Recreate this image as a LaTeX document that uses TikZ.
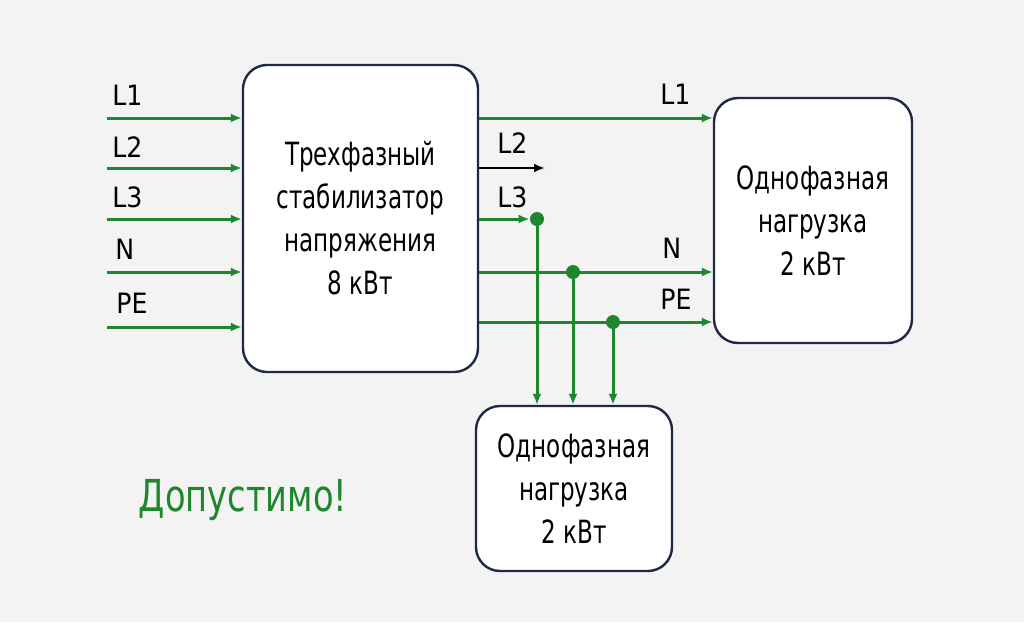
\documentclass[tikz,border=0pt]{standalone}
\usepackage{fontspec}
\setmainfont{DejaVu Sans Condensed}
\newfontfamily\narrowfont[FakeStretch=0.8]{DejaVu Sans Condensed}
\newfontfamily\verdictfont[FakeStretch=0.85]{DejaVu Sans Condensed}
\usetikzlibrary{arrows.meta,positioning,calc}
\definecolor{wirecol}{RGB}{30,135,45}
\definecolor{framecol}{RGB}{30,42,68}
\definecolor{bgcol}{RGB}{243,243,243}

\begin{document}
\begin{tikzpicture}[x=0.5pt,y=-0.5pt,
  block/.style={draw=framecol,line width=1.2pt,fill=white,rounded corners=12pt,align=center,inner sep=0pt,
    font=\narrowfont\fontsize{16}{21.5}\selectfont},
  wire/.style={draw=wirecol,line width=1.5pt},
  feed/.style={wire,-{Latex[length=5.5pt,width=4.5pt]}},
  dot/.style={circle,fill=wirecol,inner sep=0pt,minimum size=7pt},
  lbl/.style={font=\fontsize{14}{14}\selectfont,anchor=base west,inner sep=0pt}]
\fill[bgcol] (0,0) rectangle (1024,622);
\useasboundingbox (0,0) rectangle (1024,622);
% blocks
\node[block,minimum width=117.5pt,minimum height=153.5pt] (stab) at (360.5,218.5)
  {Трехфазный\\стабилизатор\\напряжения\\8 кВт};
\node[block,minimum width=99pt,minimum height=122.5pt] (loadA) at (813,220.5)
  {Однофазная\\нагрузка\\2 кВт};
\node[block,minimum width=98pt,minimum height=82.5pt] (loadB) at (574,488.5)
  {Однофазная\\нагрузка\\2 кВт};
% inputs
\coordinate (in1) at (107,118);
\coordinate (in2) at (107,168);
\coordinate (in3) at (107,219);
\coordinate (in4) at (107,272);
\coordinate (in5) at (107,327);
\foreach \i in {1,...,5}
  \draw[feed] (in\i) -- (in\i -| stab.west);
\node[lbl] (tin1) at (112,105) {L1};
\node[lbl] (tin2) at (112,157) {L2};
\node[lbl] (tin3) at (112,207) {L3};
\node[lbl] (tin4) at (115,259) {N};
\node[lbl] (tin5) at (116,313) {PE};
% outputs
\coordinate (outL2) at (545,168);
\node[dot] (dL3) at (537,219) {};
\node[dot] (dN) at (573,272) {};
\node[dot] (dPE) at (613,322) {};
\draw[feed] (stab.east |- in1) -- (loadA.west |- in1);
\draw[black,line width=1.2pt,-{Latex[length=5.5pt,width=4.5pt]}] (stab.east |- outL2) -- (outL2);
\draw[feed] (stab.east |- dL3) -- (dL3.west);
\draw[feed] (stab.east |- dN) -- (loadA.west |- dN);
\draw[feed] (stab.east |- dPE) -- (loadA.west |- dPE);
\foreach \d in {dL3,dN,dPE}
  \draw[feed] (\d) -- (\d |- loadB.north);
\node[lbl] (tout1) at (660,104) {L1};
\node[lbl] (tout2) at (497,153) {L2};
\node[lbl] (tout3) at (497,207) {L3};
\node[lbl] (tout4) at (662,258) {N};
\node[lbl] (tout5) at (660,309) {PE};
% verdict
\node[text=wirecol,font=\verdictfont\fontsize{22}{22}\selectfont] (ok) at (243,500) {Допустимо!};
\end{tikzpicture}
\end{document}
